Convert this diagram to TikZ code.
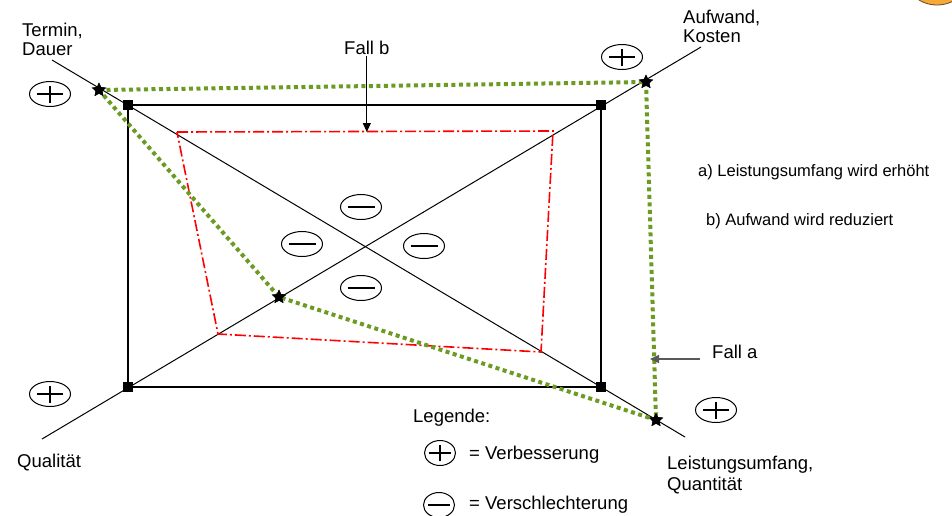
\documentclass[tikz,border=0pt]{standalone}
\usepackage{fontspec}
\setmainfont{Liberation Sans}
\usetikzlibrary{shapes.geometric,arrows.meta}
\definecolor{fallgreen}{RGB}{107,155,35}
\definecolor{sunorange}{RGB}{245,170,55}

\tikzset{
  axisline/.style={line width=1pt},
  frame/.style={line width=2pt},
  corner/.style={rectangle, fill=black, minimum size=10pt, inner sep=0pt},
  starmark/.style={star, star points=5, star point ratio=2.1, fill=black,
                   minimum size=15pt, inner sep=0pt},
  casea/.style={fallgreen, line width=4pt, dash pattern=on 4pt off 3.5pt},
  caseb/.style={red, line width=1.6pt, dash pattern=on 11pt off 3pt on 2pt off 3pt},
  label/.style={font=\fontsize{18.5}{19.5}\selectfont, inner sep=0pt, align=left},
  note/.style={font=\fontsize{16.5}{18}\selectfont, inner sep=0pt},
  pointer/.style={line width=1.2pt, -{Triangle[length=9pt,width=8pt]}},
  signbox/.style={ellipse, draw, line width=1pt, minimum width=41pt,
                  minimum height=25pt, inner sep=0pt},
  plussign/.style={signbox, path picture={
      \draw[line width=1.2pt]
        ([xshift=-13pt]path picture bounding box.center) --
        ([xshift=13pt]path picture bounding box.center)
        ([yshift=-8.5pt]path picture bounding box.center) --
        ([yshift=8.5pt]path picture bounding box.center);}},
  minussign/.style={signbox, path picture={
      \draw[line width=2.5pt]
        ([xshift=-13.5pt]path picture bounding box.center) --
        ([xshift=13.5pt]path picture bounding box.center);}},
  smallplus/.style={plussign, minimum width=31pt, minimum height=25pt, path picture={
      \draw[line width=1.2pt]
        ([xshift=-11pt]path picture bounding box.center) --
        ([xshift=11pt]path picture bounding box.center)
        ([yshift=-8pt]path picture bounding box.center) --
        ([yshift=8pt]path picture bounding box.center);}},
  smallminus/.style={signbox, minimum width=31pt, minimum height=25pt, path picture={
      \draw[line width=2.5pt]
        ([xshift=-11pt]path picture bounding box.center) --
        ([xshift=11pt]path picture bounding box.center);}},
}

\begin{document}
\begin{tikzpicture}[x=1pt, y=-1pt]
  \useasboundingbox (0,0) rectangle (952,515);
  \clip (0,0) rectangle (952,515);

  % partial sun in the upper right corner
  \fill[sunorange, draw=brown!55!black, line width=0.8pt] (937,-30) circle (35);

  % end points of the two diagonal axes
  \coordinate (ax1a) at (52,60);
  \coordinate (ax1b) at (685,437);
  \coordinate (ax2a) at (42,439);
  \coordinate (ax2b) at (701,47);

  % corners of the project frame
  \node[corner] (tl) at (128,105) {};
  \node[corner] (tr) at (601,105) {};
  \node[corner] (bl) at (128,387) {};
  \node[corner] (br) at (601,387) {};

  % corners of case b
  \coordinate (r1) at (177,132);
  \coordinate (r2) at (553,131);
  \coordinate (r3) at (541,352);
  \coordinate (r4) at (218,334);

  % stars of case a
  \node[starmark] (s1) at (99,90) {};
  \node[starmark] (s2) at (646,82) {};
  \node[starmark] (s3) at (656,420) {};
  \node[starmark] (s4) at (279,297) {};

  % frame and axes
  \draw[frame] (tl.center) -- (tr.center) -- (br.center) -- (bl.center) -- cycle;
  \draw[axisline] (ax1a) -- (ax1b);
  \draw[axisline] (ax2a) -- (ax2b);

  % case b: reduced effort
  \draw[caseb] (r1) -- (r2) -- (r3) -- (r4) -- cycle;

  % case a: extended scope
  \draw[casea] (s1.center) -- (s2.center) -- (s3.center) -- (s4.center) -- cycle;

  % redraw markers on top
  \node[corner] at (tl) {};
  \node[corner] at (tr) {};
  \node[corner] at (bl) {};
  \node[corner] at (br) {};
  \node[starmark] at (s1) {};
  \node[starmark] at (s2) {};
  \node[starmark] at (s3) {};
  \node[starmark] at (s4) {};

  % axis labels
  \node[label, anchor=north west] (termin) at (22,22.5) {Termin,\\Dauer};
  \node[label, anchor=north west] (aufwand) at (683,9.5) {Aufwand,\\Kosten};
  \node[label, anchor=base west] (qual) at (17,467) {Qualität};
  \node[label, anchor=north west, font=\fontsize{18.5}{21.5}\selectfont] (leist) at (667,455.5) {Leistungsumfang,\\Quantität};

  % improvement signs on the axes
  \node[plussign] (p1) at (50,94) {};
  \node[plussign] (p2) at (622,57) {};
  \node[plussign] (p3) at (50,394) {};
  \node[plussign] (p4) at (716,410) {};

  % deterioration signs in the centre
  \node[minussign] (m1) at (361,207) {};
  \node[minussign] (m2) at (302,244) {};
  \node[minussign] (m3) at (424,246) {};
  \node[minussign] (m4) at (361,288) {};

  % case labels with pointers
  \node[label, anchor=base west] (fallb) at (344,54) {Fall b};
  \coordinate (fallbtip) at (fallb.south |- r1);
  \draw[pointer] ([yshift=-2pt]fallb.south) -- (fallbtip);

  \node[label, anchor=base west] (falla) at (712,358) {Fall a};
  \coordinate (fallatip) at (650,359);
  \draw[pointer, draw=black!65, fill=black] (700,359) -- (fallatip);

  % notes
  \node[note, anchor=base west] (notea) at (698,176) {a) Leistungsumfang wird erhöht};
  \node[note, anchor=base west] (noteb) at (706,225) {b) Aufwand wird reduziert};

  % legend
  \node[label, anchor=base west] (leg) at (413,422) {Legende:};
  \node[smallplus] (lp) at (440,453) {};
  \node[label, anchor=base west] (lpt) at (469,459) {= Verbesserung};
  \node[smallminus] (lm) at (439,505) {};
  \node[label, anchor=base west] (lmt) at (469,509) {= Verschlechterung};
\end{tikzpicture}
\end{document}
